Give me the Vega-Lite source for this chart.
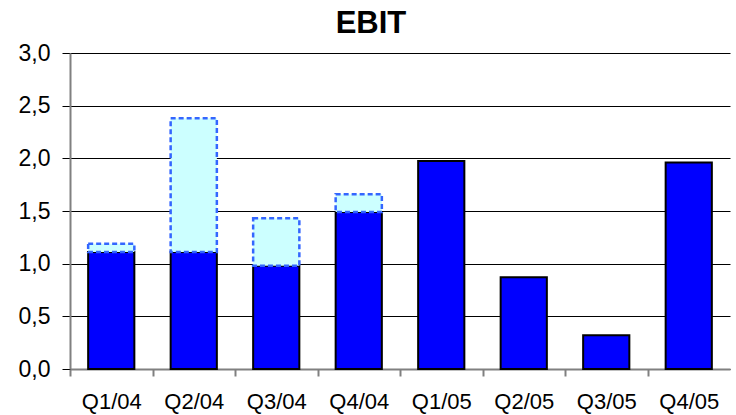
{
  "$schema": "https://vega.github.io/schema/vega-lite/v6.json",
  "width": 660,
  "height": 316,
  "autosize": {"type": "none"},
  "padding": {"left": 70, "top": 53, "right": 6, "bottom": 46},
  "background": "white",
  "config": {"view": {"stroke": null}, "font": "Liberation Sans"},
  "title": {"text": "EBIT", "fontSize": 31, "fontWeight": "bold", "font": "Liberation Sans", "color": "black", "anchor": "middle", "dx": -29, "offset": 2},
  "data": {"values": [
    {"q": "Q1/04", "ebit": 1.11, "top": 1.19},
    {"q": "Q2/04", "ebit": 1.11, "top": 2.38},
    {"q": "Q3/04", "ebit": 0.98, "top": 1.43},
    {"q": "Q4/04", "ebit": 1.49, "top": 1.66},
    {"q": "Q1/05", "ebit": 1.975, "top": null},
    {"q": "Q2/05", "ebit": 0.87, "top": null},
    {"q": "Q3/05", "ebit": 0.32, "top": null},
    {"q": "Q4/05", "ebit": 1.96, "top": null}
  ]},
  "encoding": {
    "x": {"field": "q", "type": "nominal", "sort": null,
      "scale": {"paddingInner": 0.44, "paddingOuter": 0.22},
      "axis": {"title": null, "labelAngle": 0, "labelFontSize": 22, "labelColor": "black", "labelFont": "Liberation Sans",
        "domainColor": "#808080", "domainWidth": 2, "tickColor": "#808080", "tickWidth": 2, "tickSize": 7,
        "tickOffset": -41.25, "labelOffset": 41.25, "labelPadding": 15, "grid": false}}
  },
  "layer": [
    {
      "mark": {"type": "bar", "color": "#0000FF", "stroke": "black", "strokeWidth": 2},
      "encoding": {
        "y": {"field": "ebit", "type": "quantitative",
          "scale": {"domain": [0, 3], "nice": false},
          "axis": {"title": null, "values": [0, 0.5, 1, 1.5, 2, 2.5, 3],
            "labelExpr": "replace(format(datum.value, '.1f'), '.', ',')",
            "labelFontSize": 23, "labelColor": "black", "labelFont": "Liberation Sans", "labelPadding": 12,
            "domainColor": "#808080", "domainWidth": 2, "tickColor": "black", "tickSize": 8, "tickWidth": 1,
            "grid": true, "gridColor": "black", "gridWidth": 1, "gridOpacity": 1}}
      }
    },
    {
      "transform": [{"filter": "isValid(datum.top)"}],
      "mark": {"type": "bar", "color": "#CCFFFF", "stroke": "#3366FF", "strokeWidth": 2.5, "strokeDash": [5, 3]},
      "encoding": {
        "y": {"field": "top", "type": "quantitative"},
        "y2": {"field": "ebit"}
      }
    }
  ]
}
